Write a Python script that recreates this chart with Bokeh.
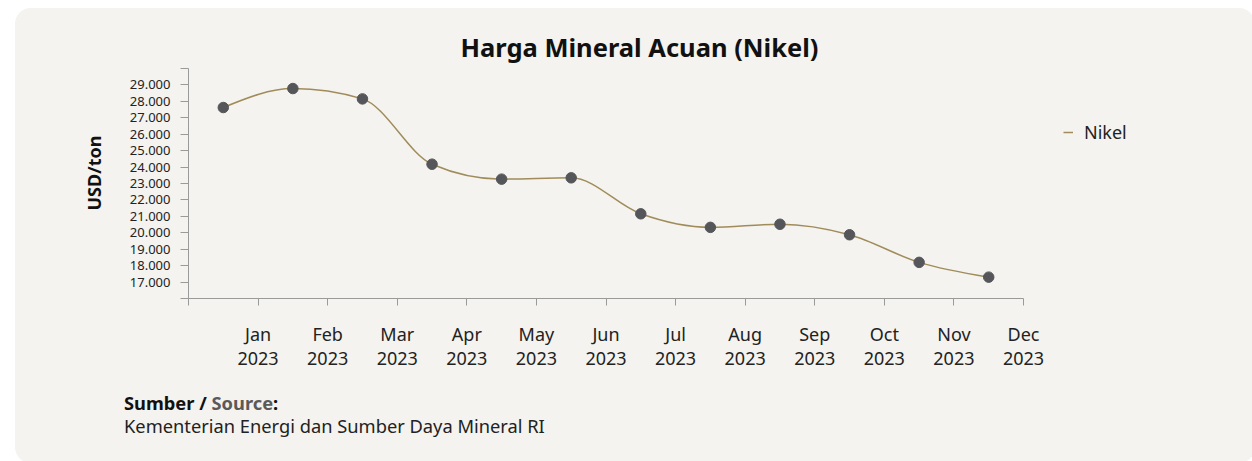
import numpy as np
from bokeh.plotting import figure
from bokeh.layouts import column
from bokeh.models import (Range1d, FixedTicker, Legend, LegendItem, ColumnDataSource, Title, Div)
from bokeh.embed import file_html
from bokeh.resources import INLINE

# ---------------- data ----------------
periods = ["Jan 2023", "Feb 2023", "Mar 2023", "Apr 2023", "May 2023", "Jun 2023",
           "Jul 2023", "Aug 2023", "Sep 2023", "Oct 2023", "Nov 2023", "Dec 2023"]
nikel = [27625, 28780, 28150, 24175, 23265, 23345, 21155, 20330, 20520, 19880, 18200, 17300]
tick_months = ["Jan", "Feb", "Mar", "Apr", "May", "Jun", "Jul", "Aug", "Sep", "Oct", "Nov", "Dec"]
tick_year = "2023"
y_ticks = list(range(16000, 30001, 1000))
title_text = "Harga Mineral Acuan (Nikel)"
y_label = "USD/ton"
series_name = "Nikel"
source_label_id = "Sumber"
source_label_en = "Source"
source_text = "Kementerian Energi dan Sumber Daya Mineral RI"

PANEL = "#f4f3ef"
LINE = "#a08c5a"
DOT = "#55565a"
AXIS = "#9a9a9a"
FONT = "Noto Sans"

# layout (pixels)
FIG_W, FIG_H = 1230, 380
LEFT, TOP, BOTTOM = 173, 60, 90
AXIS_PX = 835                      # width of the drawn x axis (12 months)
n_months = len(tick_months)
x_end = n_months * (FIG_W - LEFT) / AXIS_PX   # frame extends right to host the legend

# x positions: each monthly value sits in the middle of its month slot
xs = np.arange(len(nikel)) + 0.5
ys = np.array(nikel, dtype=float)

# monotone-x cubic (as d3.curveMonotoneX) -> bezier control points
def monotone_tangents(x, y):
    n = len(x)
    t = np.zeros(n)
    for i in range(1, n - 1):
        h0 = x[i] - x[i - 1]
        h1 = x[i + 1] - x[i]
        s0 = (y[i] - y[i - 1]) / h0
        s1 = (y[i + 1] - y[i]) / h1
        p = (s0 * h1 + s1 * h0) / (h0 + h1)
        t[i] = (np.sign(s0) + np.sign(s1)) * min(abs(s0), abs(s1), 0.5 * abs(p))
    h = x[1] - x[0]
    t[0] = (3 * (y[1] - y[0]) / h - t[1]) / 2
    h = x[-1] - x[-2]
    t[-1] = (3 * (y[-1] - y[-2]) / h - t[-2]) / 2
    return t

tg = monotone_tangents(xs, ys)
dx = (xs[1:] - xs[:-1]) / 3.0
bez = ColumnDataSource(dict(
    x0=xs[:-1], y0=ys[:-1], x1=xs[1:], y1=ys[1:],
    cx0=xs[:-1] + dx, cy0=ys[:-1] + dx * tg[:-1],
    cx1=xs[1:] - dx, cy1=ys[1:] - dx * tg[1:],
))

p = figure(width=FIG_W, height=FIG_H, output_backend="svg", toolbar_location=None,
           x_range=Range1d(0, x_end), y_range=Range1d(16000, 30000),
           min_border_left=LEFT, min_border_right=0, min_border_top=TOP,
           min_border_bottom=BOTTOM)
p.background_fill_color = PANEL
p.border_fill_color = PANEL
p.outline_line_color = None
p.grid.visible = False

r_line = p.bezier(x0="x0", y0="y0", x1="x1", y1="y1", cx0="cx0", cy0="cy0",
                  cx1="cx1", cy1="cy1", source=bez, line_color=LINE, line_width=1.5)
p.scatter(xs, ys, size=10.5, color=DOT, line_color=DOT)

# x axis
xa = p.xaxis[0]
xa.bounds = (0, n_months)
xa.ticker = FixedTicker(ticks=list(range(0, n_months + 1)))
ov = {0: ""}
for i, m in enumerate(tick_months):
    ov[i + 1] = f"{m}\n{tick_year}"
xa.major_label_overrides = ov
xa.axis_line_color = AXIS
xa.major_tick_line_color = AXIS
xa.major_tick_out = 7
xa.major_tick_in = 0
xa.minor_tick_line_color = None
xa.major_label_standoff = 16
xa.major_label_text_font = FONT
xa.major_label_text_font_size = "18px"
xa.major_label_text_line_height = 1.0
xa.major_label_text_color = "#222222"

# y axis
ya = p.yaxis[0]
ya.ticker = FixedTicker(ticks=y_ticks)
yov = {}
for v in y_ticks:
    yov[v] = "" if v in (16000, 30000) else f"{v // 1000}.000"
ya.major_label_overrides = yov
ya.axis_line_color = AXIS
ya.major_tick_line_color = AXIS
ya.major_tick_out = 8
ya.major_tick_in = 0
ya.minor_tick_line_color = None
ya.major_label_standoff = 10
ya.major_label_text_font = FONT
ya.major_label_text_font_size = "13px"
ya.major_label_text_color = "#222222"

# y axis title (rotated, placed a little above the frame centre)
p.add_layout(Title(text=y_label, align="left", offset=88, standoff=42,
                   text_font=FONT, text_font_size="18px", text_font_style="bold",
                   text_color="#111111"), "left")

# title
p.add_layout(Title(text=title_text, align="left", offset=272, standoff=10,
                   text_font=FONT, text_font_size="25.5px", text_font_style="bold",
                   text_color="#111111"), "above")

# legend (inside the widened frame, to the right of the drawn axis)
legend = Legend(items=[LegendItem(label=series_name, renderers=[r_line])],
                location=(875, 154), glyph_width=10, glyph_height=20, label_standoff=11,
                padding=0, margin=0, spacing=0, border_line_alpha=0,
                background_fill_alpha=0, label_text_font=FONT,
                label_text_font_size="18px", label_text_color="#222222")
p.add_layout(legend, "center")

src = Div(width=FIG_W, height=65, text=(
    "<div style=\"font-family:'Noto Sans';font-size:18.3px;line-height:23px;color:#222222;"
    "padding-left:104px;margin-top:-2px;white-space:nowrap\">"
    f"<b style='color:#111111'>{source_label_id} / <span style='color:#5a5a5a'>{source_label_en}</span>:</b><br>"
    f"{source_text}</div>"))

col = column(p, src, styles={"background-color": PANEL, "border-radius": "16px",
                             "overflow": "hidden", "margin-left": "15px",
                             "margin-top": "8px"})

open("out.html", "w").write(file_html(col, INLINE))
